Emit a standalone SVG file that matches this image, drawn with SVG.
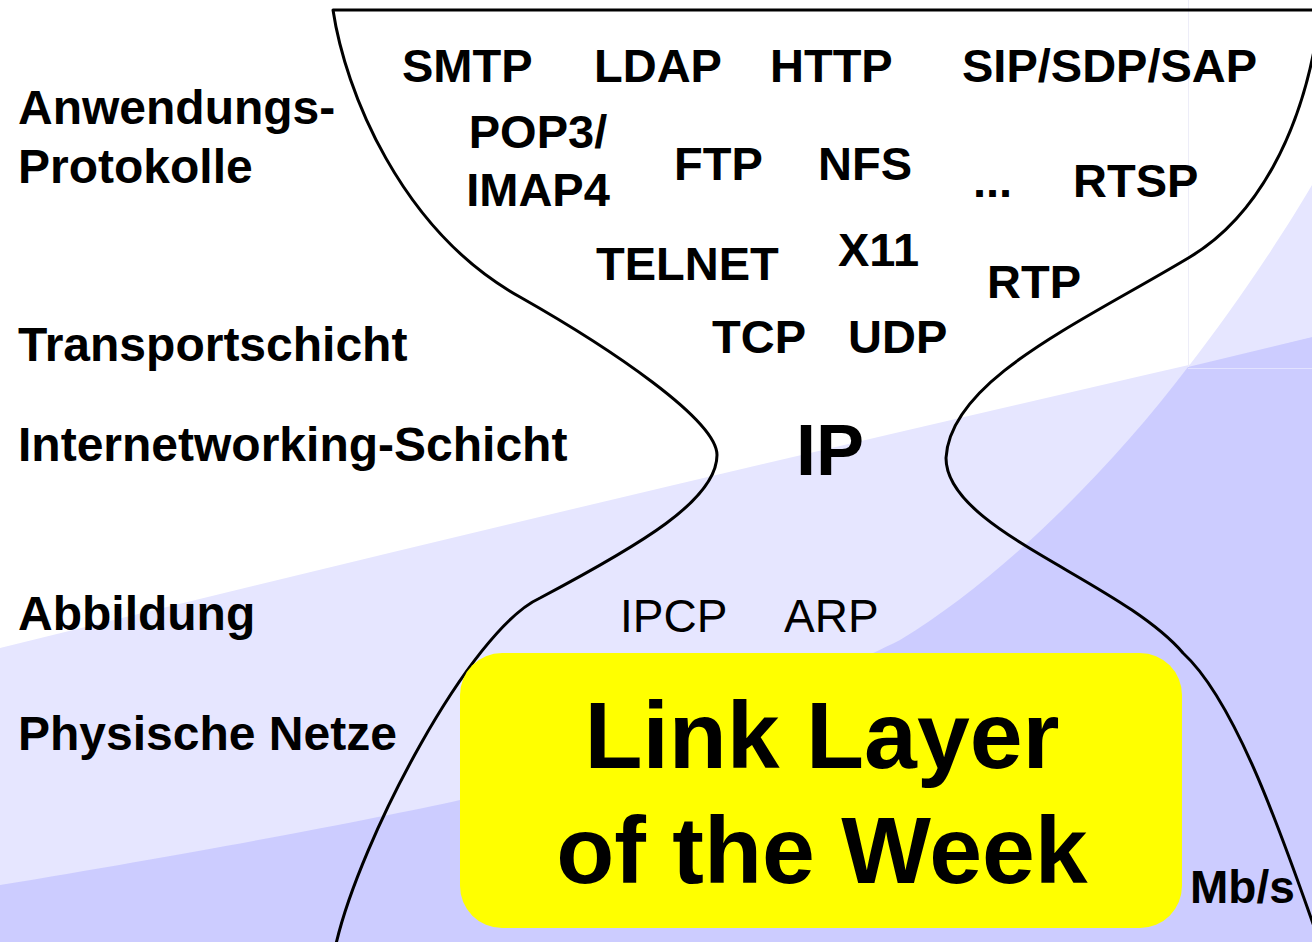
<svg xmlns="http://www.w3.org/2000/svg" width="1312" height="942" viewBox="0 0 1312 942">
  <style>
    .lbl { font-family: "Liberation Sans", Arial, sans-serif; font-weight: bold; font-size: 48px; fill: #000; }
    .proto { font-family: "Liberation Sans", Arial, sans-serif; font-weight: bold; font-size: 47px; fill: #000; }
    .thin { font-family: "Liberation Sans", Arial, sans-serif; font-weight: normal; font-size: 46px; fill: #000; }
    .big { font-family: "Liberation Sans", Arial, sans-serif; font-weight: bold; font-size: 95px; fill: #000; text-anchor: middle; }
    .glass { fill: none; stroke: #000; stroke-width: 3; stroke-linejoin: round; }
  </style>

  <!-- background bands -->
  <g id="background">
    <rect x="0" y="0" width="1312" height="942" fill="#FFFFFF"/>
    <!-- light band under the rising line -->
    <path d="M0,648 Q656,486 1312,337 L1312,942 L0,942 Z" fill="#E6E6FF"/>
    <!-- light wedge at the upper right -->
    <path d="M1188,367 C1230,313 1280,240 1312,185 L1312,337 Z" fill="#E6E6FF"/>
    <!-- darker band -->
    <path d="M0,885 C200,852 380,818 460,800 C600,770 800,690 900,640 C1000,580 1110,470 1188,367 L1312,337 L1312,942 L0,942 Z" fill="#CCCCFF"/>
    <!-- faint seams -->
    <line x1="1188.5" y1="0" x2="1188.5" y2="367" stroke="#EDEDF8" stroke-width="1"/>
    <line x1="1188" y1="368.5" x2="1312" y2="368.5" stroke="#E2E2FF" stroke-width="1"/>
  </g>

  <!-- hourglass outline -->
  <g id="hourglass">
    <path class="glass" d="M1316,10 L333,10 C345,90 400,230 520,297 C610,348 717,420 717,455 C717,500 640,545 540,598 C470,630 360,840 336,944"/>
    <path class="glass" d="M1316,40 C1300,130 1260,215 1190,257 C1080,323 950,380 946,458 C946,530 1120,580 1183,653 C1240,705 1290,860 1321,946"/>
  </g>

  <!-- layer names -->
  <g id="layer-labels">
    <text class="lbl" x="18" y="124">Anwendungs-</text>
    <text class="lbl" x="18" y="183">Protokolle</text>
    <text class="lbl" x="18" y="361">Transportschicht</text>
    <text class="lbl" x="18" y="461">Internetworking-Schicht</text>
    <text class="lbl" x="18" y="630">Abbildung</text>
    <text class="lbl" x="18" y="750">Physische Netze</text>
  </g>

  <!-- protocols -->
  <g id="protocols">
    <text class="proto" x="402" y="82">SMTP</text>
    <text class="proto" x="594" y="82">LDAP</text>
    <text class="proto" x="770" y="82">HTTP</text>
    <text class="proto" x="962" y="82">SIP/SDP/SAP</text>
    <text class="proto" x="538" y="148" text-anchor="middle">POP3/</text>
    <text class="proto" x="538" y="206" text-anchor="middle">IMAP4</text>
    <text class="proto" x="674" y="180">FTP</text>
    <text class="proto" x="818" y="180">NFS</text>
    <text class="proto" x="973" y="197">...</text>
    <text class="proto" x="1073" y="197">RTSP</text>
    <text class="proto" x="596" y="280">TELNET</text>
    <text class="proto" x="838" y="266">X11</text>
    <text class="proto" x="987" y="298">RTP</text>
    <text class="proto" x="712" y="353">TCP</text>
    <text class="proto" x="848" y="353">UDP</text>
    <text class="proto" x="796" y="475" style="font-size:72px">IP</text>
    <text class="thin" x="620" y="632">IPCP</text>
    <text class="thin" x="784" y="632">ARP</text>
  </g>

  <!-- link layer box -->
  <g id="link-layer">
    <rect x="460" y="653" width="722" height="275" rx="42" ry="42" fill="#FFFF00"/>
    <text class="big" x="822" y="768">Link Layer</text>
    <text class="big" x="822" y="883">of the Week</text>
  </g>

  <g id="rate">
    <text class="proto" x="1190" y="903" style="font-size:46px">Mb/s</text>
  </g>
</svg>
